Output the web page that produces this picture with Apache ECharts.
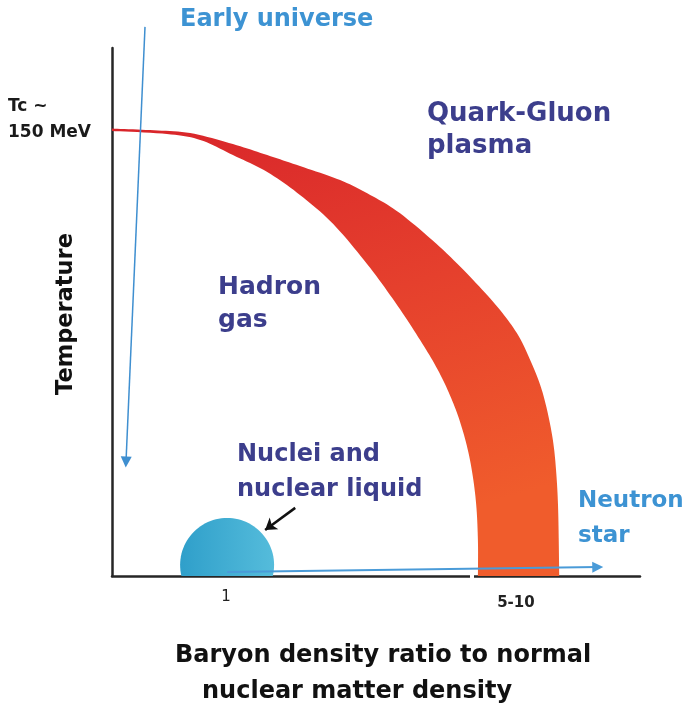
<!DOCTYPE html>
<html>
<head>
<meta charset="utf-8">
<script src="https://cdn.jsdelivr.net/npm/echarts@6/dist/echarts.min.js"></script>
<style>
html,body{margin:0;padding:0;background:#fff;}
#chart{width:692px;height:707px;}
</style>
</head>
<body>
<div id="chart"></div>
<script>
// ---- axis ranges and tick labels ----
const xMin = 0, xMax = 10;            // baryon density (arbitrary, non-linear scale)
const tMin = 0, tMax = 177.5;         // temperature (MeV)
const xTickValues = [2.16, 7.65];
const xTickLabels = ['1', '5-10'];

// ---- phase-transition band (outer and inner boundary) ----
const outerX = [0, 0.72, 1.48, 2.29, 2.94, 3.56, 4.32, 4.89, 5.45, 6.21, 6.84, 7.35, 7.69, 7.92, 8.11, 8.24, 8.35, 8.41, 8.45, 8.47];
const outerT = [150.4, 149.9, 148.9, 145.2, 141.5, 137.8, 133.1, 128.1, 122.0, 110.6, 99.5, 89.4, 81.0, 72.6, 64.2, 55.8, 45.7, 35.6, 22.2, 0];
const innerX = [0, 1.04, 1.67, 2.29, 2.94, 3.56, 4.19, 4.83, 5.36, 5.80, 6.14, 6.40, 6.61, 6.78, 6.89, 6.93, 6.93];
const innerT = [149.6, 148.6, 146.6, 141.5, 135.8, 128.1, 118.3, 104.9, 92.1, 80.3, 70.3, 60.8, 50.8, 39.0, 25.5, 12.1, 0];

// ---- nuclei droplet: centre x, centre T, radius x, radius T ----
const nucleus = [2.18, 3.7, 0.89, 15.8];

// ---- arrows [x1, T1, x2, T2] ----
const earlyUniverseArrow = [0.625, 184.6, 0.265, 38.3];
const neutronStarArrow = [2.18, 1.34, 9.2, 3.0];
const nucleiPointer = [3.47, 22.9, 2.90, 15.5];

const FONT = '"DejaVu Sans", sans-serif';
const DARK = '#3c3e8c';
const LIGHT = '#3d93d3';

const chart = echarts.init(document.getElementById('chart'), null, {renderer: 'canvas'});

function txt(text, x, y, size, color, weight) {
  return {
    type: 'text', z: 50,
    style: {
      text: text, x: x, y: y, fill: color,
      fontFamily: FONT, fontWeight: weight || 'bold', fontSize: size,
      textAlign: 'left', textVerticalAlign: 'middle'
    }
  };
}

// Catmull-Rom densification of a pixel polyline (drawing helper only)
function smoothPts(p) {
  const out = [];
  const n = p.length;
  for (let i = 0; i < n - 1; i++) {
    const p0 = p[Math.max(0, i - 1)], p1 = p[i], p2 = p[i + 1], p3 = p[Math.min(n - 1, i + 2)];
    const steps = 10;
    for (let s = 0; s < steps; s++) {
      const t = s / steps, t2 = t * t, t3 = t2 * t;
      const f = function (a, b, c, d) {
        return 0.5 * ((2 * b) + (-a + c) * t + (2 * a - 5 * b + 4 * c - d) * t2 + (-a + 3 * b - 3 * c + d) * t3);
      };
      out.push([f(p0[0], p1[0], p2[0], p3[0]), f(p0[1], p1[1], p2[1], p3[1])]);
    }
  }
  out.push(p[n - 1]);
  return out;
}

const option = {
  backgroundColor: '#ffffff',
  animation: false,
  grid: {left: 112, right: 52, top: 48, bottom: 131, containLabel: false},
  xAxis: {
    type: 'value', min: xMin, max: xMax,
    axisLine: {show: true, lineStyle: {color: '#262626', width: 2.5}},
    axisTick: {show: false},
    splitLine: {show: false},
    axisLabel: {
      show: true, customValues: xTickValues, margin: 14,
      fontFamily: FONT, fontSize: 15, color: '#222',
      formatter: function (v) {
        for (let i = 0; i < xTickValues.length; i++) {
          if (Math.abs(xTickValues[i] - v) < 1e-6) return i === 0 ? xTickLabels[i] : '{b|' + xTickLabels[i] + '}';
        }
        return '';
      },
      rich: {b: {fontFamily: FONT, fontSize: 15, fontWeight: 'bold', color: '#222', padding: [6, 0, 0, 0]}}
    }
  },
  yAxis: {
    type: 'value', min: tMin, max: tMax,
    axisLine: {show: true, lineStyle: {color: '#262626', width: 2.5}},
    axisTick: {show: false},
    splitLine: {show: false},
    axisLabel: {show: false}
  },
  series: [
    {
      type: 'custom', name: 'Phase boundary', z: 2, clip: false,
      data: [[outerX[0], outerT[0]]],
      renderItem: function (params, api) {
        const o = [], inn = [];
        for (let i = 0; i < outerX.length; i++) o.push(api.coord([outerX[i], outerT[i]]));
        for (let i = 0; i < innerX.length; i++) inn.push(api.coord([innerX[i], innerT[i]]));
        const pts = smoothPts(o).concat(smoothPts(inn).reverse());
        return {
          type: 'polygon',
          shape: {points: pts},
          style: {
            fill: {
              type: 'linear', x: 0, y: 0, x2: 0.3, y2: 1,
              colorStops: [
                {offset: 0, color: '#d8242a'},
                {offset: 0.5, color: '#e5402d'},
                {offset: 1, color: '#f05c2c'}
              ]
            }
          }
        };
      }
    },
    {
      type: 'custom', name: 'Nuclei', z: 3, clip: false,
      data: [nucleus],
      renderItem: function (params, api) {
        const cx = api.value(0), ct = api.value(1), rx = api.value(2), rt = api.value(3);
        const a0 = Math.asin(Math.min(1, ct / rt));
        const pts = [];
        const n = 60;
        for (let k = 0; k <= n; k++) {
          const th = -a0 + (Math.PI + 2 * a0) * k / n;
          pts.push(api.coord([cx + rx * Math.cos(th), ct + rt * Math.sin(th)]));
        }
        return {
          type: 'polygon',
          shape: {points: pts},
          style: {
            fill: {
              type: 'linear', x: 0, y: 0, x2: 1, y2: 0,
              colorStops: [
                {offset: 0, color: '#2f9fca'},
                {offset: 1, color: '#55bcdb'}
              ]
            }
          }
        };
      }
    },
    {
      type: 'lines', coordinateSystem: 'cartesian2d', z: 5, clip: false,
      symbol: ['none', 'triangle'], symbolSize: [1, 11],
      lineStyle: {color: '#3f8fd0', width: 1.5, opacity: 1, curveness: 0},
      data: [{coords: [[earlyUniverseArrow[0], earlyUniverseArrow[1]], [earlyUniverseArrow[2], earlyUniverseArrow[3]]]}]
    },
    {
      type: 'lines', coordinateSystem: 'cartesian2d', z: 5, clip: false,
      symbol: ['none', 'triangle'], symbolSize: [1, 11],
      lineStyle: {color: '#4a9bd8', width: 2, opacity: 1, curveness: 0},
      data: [{coords: [[neutronStarArrow[0], neutronStarArrow[1]], [neutronStarArrow[2], neutronStarArrow[3]]]}]
    },
    {
      type: 'lines', coordinateSystem: 'cartesian2d', z: 5, clip: false,
      symbol: ['none', 'arrow'], symbolSize: [1, 11],
      lineStyle: {color: '#111', width: 2.5, opacity: 1, curveness: 0},
      data: [{coords: [[nucleiPointer[0], nucleiPointer[1]], [nucleiPointer[2], nucleiPointer[3]]]}]
    }
  ],
  graphic: [
    {type: 'rect', z: 60, shape: {x: 470, y: 572, width: 4, height: 8}, style: {fill: '#ffffff'}},
    txt('Tc ~', 8, 107, 17, '#1a1a1a'),
    txt('150 MeV', 8, 133, 17, '#1a1a1a'),
    txt('Early universe', 180, 20, 24, LIGHT),
    txt('Quark-Gluon', 427, 114, 26, DARK),
    txt('plasma', 427, 146, 26, DARK),
    txt('Hadron', 218, 287, 25, DARK),
    txt('gas', 218, 320, 25, DARK),
    txt('Nuclei and', 237, 455, 24, DARK),
    txt('nuclear liquid', 237, 490, 24, DARK),
    txt('Neutron', 578, 501, 23, LIGHT),
    txt('star', 578, 536, 23, LIGHT),
    txt('Baryon density ratio to normal', 175, 656, 24, '#111'),
    txt('nuclear matter density', 202, 692, 24, '#111'),
    {
      type: 'text', z: 50, x: 66, y: 314, rotation: Math.PI / 2,
      style: {
        text: 'Temperature', x: 0, y: 0, fill: '#111',
        fontFamily: FONT, fontWeight: 'bold', fontSize: 22.5,
        textAlign: 'center', textVerticalAlign: 'middle'
      }
    }
  ]
};
chart.setOption(option);
</script>
</body>
</html>
